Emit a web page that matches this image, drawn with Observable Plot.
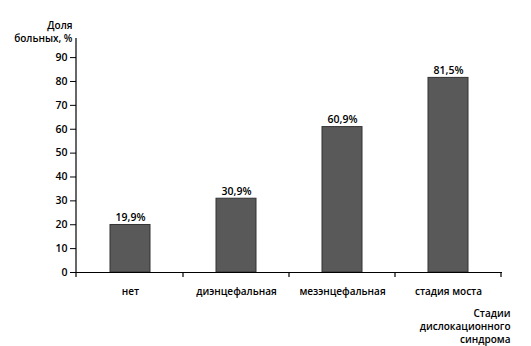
<!DOCTYPE html>
<html>
<head>
<meta charset="utf-8">
<script src="https://cdn.jsdelivr.net/npm/d3@7"></script>
<script src="https://cdn.jsdelivr.net/npm/@observablehq/plot@0.6"></script>
<style>
  html, body { margin: 0; padding: 0; background: #fff; }
</style>
</head>
<body>
<div id="chart"></div>
<script>
const categories = ["нет", "диэнцефальная", "мезэнцефальная", "стадия моста"];
const values = [19.9, 30.9, 60.9, 81.5];
const valueLabels = ["19,9%", "30,9%", "60,9%", "81,5%"];
const yTicks = [0, 10, 20, 30, 40, 50, 60, 70, 80, 90];
const yTitle = "Доля\nбольных, %";
const xTitle = "Стадии\nдислокационного\nсиндрома";

const data = categories.map((c, i) => ({cat: c, value: values[i], label: valueLabels[i]}));

// Custom mark: y-axis domain line and x-axis boundary ticks (between categories)
function axisLines(index, scales, values, dimensions) {
  const ns = "http://www.w3.org/2000/svg";
  const g = document.createElementNS(ns, "g");
  g.setAttribute("stroke", "#000");
  g.setAttribute("stroke-width", "1.2");
  const x = scales.x, y = scales.y;
  const y0 = y(0);
  const top = dimensions.marginTop;
  const left = dimensions.marginLeft;
  const line = (x1, y1, x2, y2) => {
    const l = document.createElementNS(ns, "line");
    l.setAttribute("x1", x1); l.setAttribute("y1", y1);
    l.setAttribute("x2", x2); l.setAttribute("y2", y2);
    g.appendChild(l);
  };
  line(left, y0 + 5, left, top);
  const bw = x.bandwidth();
  const step = x.step();
  const gap = (step - bw) / 2;
  const xs = categories.map(c => x(c) - gap);
  xs.push(x(categories[categories.length - 1]) + bw + gap);
  xs.forEach((bx, i) => { if (i > 0) line(bx, y0, bx, y0 + 5); });
  return g;
}

const chart = Plot.plot({
  width: 531,
  height: 346,
  marginLeft: 76,
  marginRight: 29,
  marginTop: 38,
  marginBottom: 74,
  style: {fontFamily: "'Open Sans', sans-serif", fontSize: "10px", fontWeight: 600, color: "#000", background: "#fff"},
  x: {domain: categories, paddingInner: 0.62, paddingOuter: 0.31, axis: null},
  y: {domain: [0, 98], axis: null},
  marks: [
    Plot.barY(data, {x: "cat", y: "value", fill: "#595959", stroke: "#333", strokeWidth: 1}),
    Plot.text(data, {x: "cat", y: "value", text: "label", lineAnchor: "bottom", dy: -4, fontSize: 10.5, fill: "#000"}),
    Plot.axisY({ticks: yTicks, tickSize: 6, tickPadding: 3, label: null, stroke: "#000", fill: "#000", fontSize: 10.5}),
    Plot.axisX({tickSize: 0, tickPadding: 15, label: null, fill: "#000", fontSize: 10}),
    Plot.ruleY([0], {stroke: "#000", strokeWidth: 1.2}),
    axisLines,
    Plot.text([yTitle], {frameAnchor: "top-left", textAnchor: "end", lineAnchor: "bottom", dx: -4, dy: 3, lineHeight: 1.3, fill: "#000"}),
    Plot.text([xTitle], {frameAnchor: "bottom-right", textAnchor: "end", lineAnchor: "top", dx: 8, dy: 35, lineHeight: 1.3, fill: "#000"})
  ]
});

document.getElementById("chart").appendChild(chart);
</script>
</body>
</html>
